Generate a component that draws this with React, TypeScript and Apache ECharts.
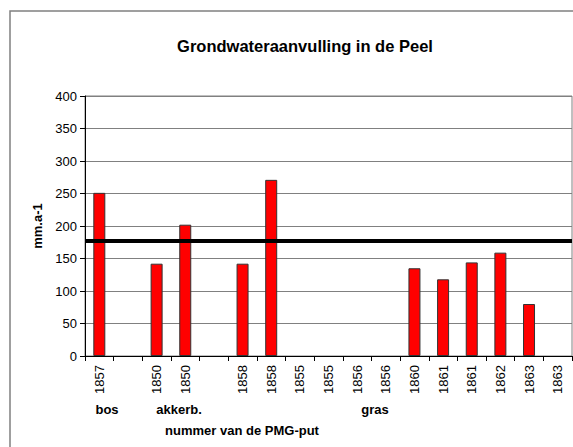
import React, { useEffect, useRef } from "react";
import * as echarts from "echarts";

const categories = ["1857", "", "1850", "1850", "", "1858", "1858", "1855", "1855", "1856", "1856", "1860", "1861", "1861", "1862", "1863", "1863"];
const values: (number | null)[] = [251, null, 142, 202, null, 142, 271, null, null, null, null, 135, 118, 144, 159, 80, null];
const referenceLevel = 178;
const groupLabels = [
  { text: "bos", x: 107 },
  { text: "akkerb.", x: 179 },
  { text: "gras", x: 375 },
];
const FONT = "'Liberation Sans', Arial, sans-serif";

export default function App() {
  const ref = useRef<HTMLDivElement>(null);
  useEffect(() => {
    if (!ref.current) return;
    const chart = echarts.init(ref.current, null, { renderer: "svg" });
    chart.setOption({
      animation: false,
      backgroundColor: "#ffffff",
      textStyle: { fontFamily: FONT },
      title: {
        text: "Grondwateraanvulling in de Peel",
        left: 300,
        top: 32,
        textAlign: "center",
        textStyle: { fontFamily: FONT, fontSize: 16.5, fontWeight: "bold", color: "#000" },
      },
      grid: {
        left: 85,
        top: 96,
        right: 1,
        bottom: 91,
        show: true,
        borderColor: "#808080",
        borderWidth: 1,
      },
      xAxis: {
        type: "category",
        data: categories,
        axisLine: { lineStyle: { color: "#000", width: 1 } },
        axisTick: { show: true, length: 5, alignWithLabel: false, lineStyle: { color: "#000" } },
        axisLabel: {
          rotate: 90,
          interval: 0,
          margin: 9,
          fontSize: 13,
          color: "#000",
          fontFamily: FONT,
        },
      },
      yAxis: {
        type: "value",
        min: 0,
        max: 400,
        interval: 50,
        name: "mm.a-1",
        nameLocation: "middle",
        nameGap: 36,
        nameRotate: 90,
        nameTextStyle: { fontFamily: FONT, fontSize: 13, fontWeight: "bold", color: "#000" },
        axisLine: { show: true, lineStyle: { color: "#000", width: 1 } },
        axisTick: { show: true, length: 5, lineStyle: { color: "#000" } },
        axisLabel: { fontSize: 13, color: "#000", margin: 8, fontFamily: FONT },
        splitLine: { show: true, lineStyle: { color: "#808080", width: 1 } },
      },
      series: [
        {
          type: "bar",
          data: values,
          barWidth: 12,
          itemStyle: { color: "#ff0000", borderColor: "#333", borderWidth: 1 },
          markLine: {
            silent: true,
            symbol: ["none", "none"],
            label: { show: false },
            lineStyle: { color: "#000", width: 4, type: "solid" },
            data: [{ yAxis: referenceLevel }],
          },
        },
      ],
      graphic: [
        {
          type: "rect",
          shape: { x: 10, y: 11, width: 700, height: 600 },
          style: { fill: "none", stroke: "#808080", lineWidth: 1.5 },
          silent: true,
        },
        ...groupLabels.map((g) => ({
          type: "text",
          x: g.x,
          y: 409,
          style: {
            text: g.text,
            fontFamily: FONT,
            fontSize: 13,
            fontWeight: "bold",
            fill: "#000",
            textAlign: "center",
            textVerticalAlign: "middle",
          },
        })),
        {
          type: "text",
          x: 242,
          y: 430,
          style: {
            text: "nummer van de PMG-put",
            fontFamily: FONT,
            fontSize: 13,
            fontWeight: "bold",
            fill: "#000",
            textAlign: "center",
            textVerticalAlign: "middle",
          },
        },
      ],
    });
    return () => chart.dispose();
  }, []);
  return <div ref={ref} style={{ width: 573, height: 447, position: "absolute", left: 0, top: 0 }} />;
}
